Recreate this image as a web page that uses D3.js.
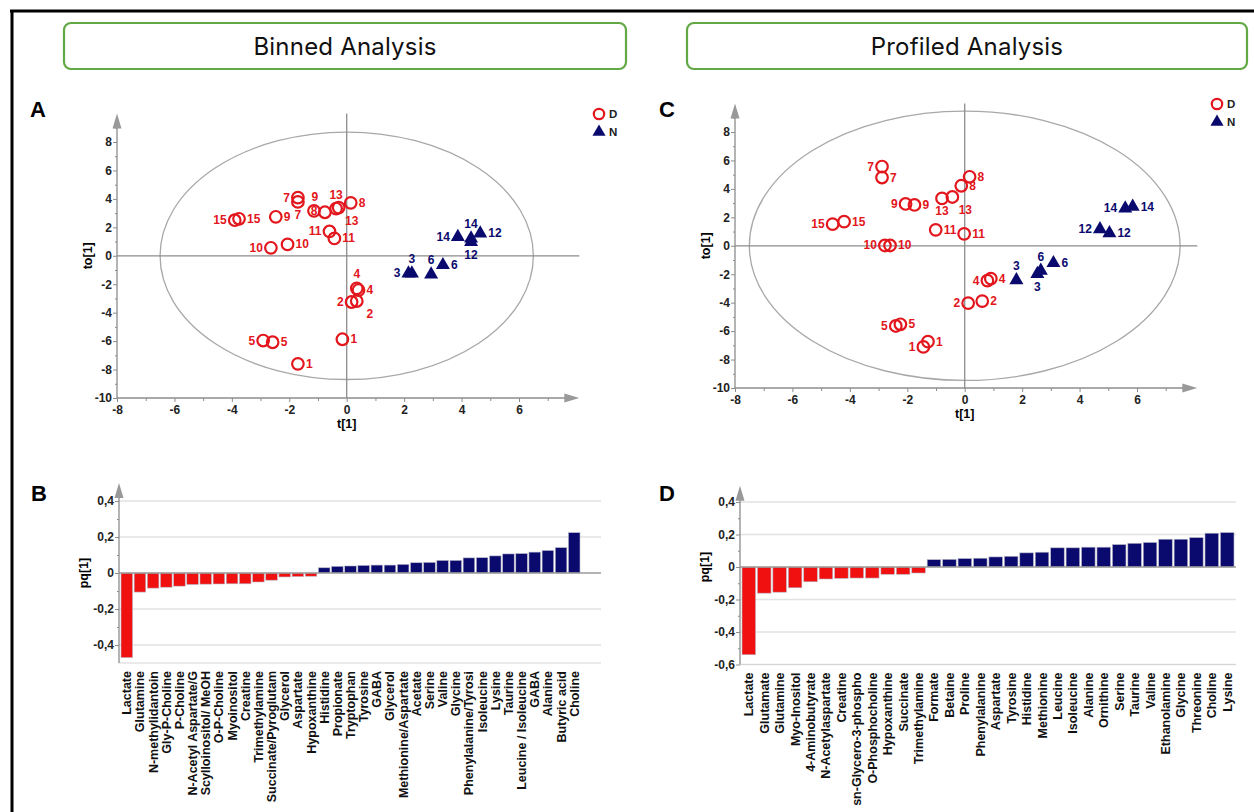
<!DOCTYPE html>
<html>
<head>
<meta charset="utf-8">
<script src="https://cdn.jsdelivr.net/npm/d3@7"></script>
<style>
    body { margin: 0; background: #fff; }
    svg text { font-family: "Liberation Sans", Arial, sans-serif; }
</style>
</head>
<body>
<script>
    // ---------- data ----------
    var scoreTicksX = [-8, -6, -4, -2, 0, 2, 4, 6];
    var scoreTicksY = [-10, -8, -6, -4, -2, 0, 2, 4, 6, 8];

    // Binned analysis scores (t[1], to[1])
    var binnedD = [
        {t: -3.90, to: 2.50, id: "15"}, {t: -3.75, to: 2.60, id: "15"},
        {t: -2.47, to: 2.74, id: "9"},  {t: -1.70, to: 4.09, id: "7"},
        {t: -1.70, to: 3.79, id: "7"},  {t: -1.14, to: 3.16, id: "8"},
        {t: -0.76, to: 3.06, id: "9"},  {t: -0.37, to: 3.32, id: "13"},
        {t: -0.28, to: 3.39, id: "13"}, {t: 0.14, to: 3.72, id: "8"},
        {t: -0.60, to: 1.71, id: "11"}, {t: -0.43, to: 1.22, id: "11"},
        {t: -2.64, to: 0.56, id: "10"}, {t: -2.06, to: 0.80, id: "10"},
        {t: 0.35, to: -2.29, id: "4"},  {t: 0.41, to: -2.41, id: "4"},
        {t: 0.17, to: -3.25, id: "2"},  {t: 0.35, to: -3.18, id: "2"},
        {t: -2.91, to: -5.96, id: "5"}, {t: -2.58, to: -6.08, id: "5"},
        {t: -0.15, to: -5.87, id: "1"}, {t: -1.70, to: -7.60, id: "1"}
    ];
    var binnedDSide = ["l","r","r","l","b","c","tl","t","br","r","l","r","l","r","t","r","l","br","l","r","r","r"];
    var binnedN = [
        {t: 2.15, to: -1.24, id: "3"},  {t: 2.27, to: -1.24, id: "3"},
        {t: 2.94, to: -1.31, id: "6"},  {t: 3.35, to: -0.65, id: "6"},
        {t: 3.87, to: 1.33, id: "14"},  {t: 4.33, to: 1.22, id: "14"},
        {t: 4.33, to: 0.98, id: "12"},  {t: 4.65, to: 1.57, id: "12"}
    ];
    var binnedNSide = ["l","t","t","r","l","t","b","r"];

    // Profiled analysis scores
    var profiledD = [
        {t: -2.88, to: 5.57, id: "7"},  {t: -2.88, to: 4.80, id: "7"},
        {t: 0.17, to: 4.85, id: "8"},   {t: -0.12, to: 4.22, id: "8"},
        {t: -2.06, to: 2.94, id: "9"},  {t: -1.75, to: 2.87, id: "9"},
        {t: -0.79, to: 3.33, id: "13"}, {t: -0.43, to: 3.43, id: "13"},
        {t: -4.60, to: 1.52, id: "15"}, {t: -4.20, to: 1.70, id: "15"},
        {t: -1.01, to: 1.12, id: "11"}, {t: -0.02, to: 0.84, id: "11"},
        {t: -2.78, to: 0.02, id: "10"}, {t: -2.60, to: 0.02, id: "10"},
        {t: 0.79, to: -2.45, id: "4"},  {t: 0.91, to: -2.31, id: "4"},
        {t: 0.12, to: -4.03, id: "2"},  {t: 0.61, to: -3.89, id: "2"},
        {t: -2.40, to: -5.64, id: "5"}, {t: -2.24, to: -5.52, id: "5"},
        {t: -1.44, to: -7.11, id: "1"}, {t: -1.28, to: -6.74, id: "1"}
    ];
    var profiledDSide = ["l","r","r","r","l","r","b","br","l","r","r","r","l","r","l","r","l","r","l","r","l","r"];
    var profiledN = [
        {t: 5.59, to: 2.63, id: "14"},  {t: 5.85, to: 2.75, id: "14"},
        {t: 4.71, to: 1.17, id: "12"},  {t: 5.04, to: 0.89, id: "12"},
        {t: 1.80, to: -2.42, id: "3"},  {t: 2.53, to: -1.98, id: "3"},
        {t: 2.65, to: -1.75, id: "6"},  {t: 3.09, to: -1.21, id: "6"}
    ];
    var profiledNSide = ["l","r","l","r","t","b","t","r"];

    // Loadings pq[1]
    var binnedNames = ["Lactate","Glutamine","N-methylidantoin","Gly-P-Choline","P-Choline",
        "N-Acetyl Aspartate/G","Scylloinositol/ MeOH","O-P-Choline","Myoinositol","Creatine",
        "Trimethylamine","Succinate/Pyroglutam","Glycerol","Aspartate","Hypoxanthine",
        "Histidine","Propionate","Tryptophan","Tyrosine","GABA","Glycerol",
        "Methionine/Aspartate","Acetate","Serine","Valine","Glycine","Phenylalanine/Tyrosi",
        "Isoleucine","Lysine","Taurine","Leucine / Isoleucine","GABA","Alanine","Butyric acid","Choline"];
    var binnedPq = [-0.470,-0.106,-0.084,-0.079,-0.073,-0.064,-0.062,-0.061,-0.060,-0.060,
        -0.050,-0.040,-0.022,-0.020,-0.018,
        0.029,0.037,0.039,0.042,0.044,0.044,0.048,0.057,0.059,0.070,0.070,0.084,
        0.085,0.095,0.106,0.108,0.116,0.125,0.141,0.224];
    var binnedPqTicks = [-0.4, -0.2, 0, 0.2, 0.4];

    var profiledNames = ["Lactate","Glutamate","Glutamine","Myo-Inositol","4-Aminobutyrate",
        "N-Acetylaspartate","Creatine","sn-Glycero-3-phospho","O-Phosphocholine","Hypoxanthine",
        "Succinate","Trimethylamine","Formate","Betaine","Proline","Phenylalanine","Aspartate",
        "Tyrosine","Histidine","Methionine","Leucine","Isoleucine","Alanine","Ornithine","Serine",
        "Taurine","Valine","Ethanolamine","Glycine","Threonine","Choline","Lysine"];
    var profiledPq = [-0.540,-0.161,-0.155,-0.128,-0.091,-0.074,-0.070,-0.068,-0.068,-0.045,
        -0.045,-0.037,
        0.045,0.047,0.052,0.054,0.062,0.066,0.087,0.091,0.118,0.118,0.122,0.122,0.138,
        0.146,0.151,0.171,0.171,0.181,0.208,0.212];
    var profiledPqTicks = [-0.6, -0.4, -0.2, 0, 0.2, 0.4];

    var headers = ["Binned Analysis", "Profiled Analysis"];
    var groups = ["D", "N"];

    // ---------- style ----------
    var RED = "#e2161c", BAR_RED = "#f01010", NAVY = "#0a0a6e", AXIS = "#8c8c8c";

    var W = 1254, H = 812;
    var svg = d3.select("body").append("svg").attr("width", W).attr("height", H);

    // page frame (top and left rule)
    svg.append("line").attr("x1", 10).attr("x2", W).attr("y1", 11).attr("y2", 11)
        .attr("stroke", "#000").attr("stroke-width", 3);
    svg.append("line").attr("x1", 12).attr("x2", 12).attr("y1", 10).attr("y2", H)
        .attr("stroke", "#000").attr("stroke-width", 3);

    // header boxes
    [[64, 626], [687, 1247]].forEach(function(b, i) {
        svg.append("rect").attr("x", b[0]).attr("y", 23).attr("width", b[1] - b[0]).attr("height", 46)
            .attr("rx", 7).attr("fill", "none").attr("stroke", "#62a844").attr("stroke-width", 2.2);
        svg.append("text").attr("x", (b[0] + b[1]) / 2).attr("y", 55)
            .attr("text-anchor", "middle").style("font-family", "Inter, Roboto, sans-serif")
            .style("font-size", "24px").style("letter-spacing", "0.2px").attr("fill", "#111").text(headers[i]);
    });

    // panel letters
    [["A", 30, 117], ["B", 31, 501], ["C", 659, 117], ["D", 659, 501]].forEach(function(p) {
        svg.append("text").attr("x", p[1]).attr("y", p[2]).style("font-size", "22px")
            .style("font-weight", "bold").text(p[0]);
    });

    function arrowUp(g, x, y) {
        g.append("path").attr("d", "M" + x + "," + y + "L" + (x - 4.5) + "," + (y + 15) + "L" + (x + 4.5) + "," + (y + 15) + "Z")
            .attr("fill", "#999");
    }
    function arrowRight(g, x, y) {
        g.append("path").attr("d", "M" + x + "," + y + "L" + (x - 15) + "," + (y - 4.5) + "L" + (x - 15) + "," + (y + 4.5) + "Z")
            .attr("fill", "#999");
    }

    var fmtInt = function(d) { return String(d); };

    function labelPos(side, px, py) {
        var o = {l: [-8, 4, "end"], r: [8, 4, "start"], t: [0, -10, "middle"], b: [0, 17, "middle"],
                 tl: [-10, -11, "middle"], br: [13, 17, "middle"], c: [0, 4, "middle"]}[side];
        return {x: px + o[0], y: py + o[1], anchor: o[2]};
    }

    function scorePlot(x0, y0, dPts, dSide, nPts, nSide, rx, ry, legend) {
        var g = svg.append("g");
        var x = d3.scaleLinear().domain([-8, 6]).range([x0, x0 + 402]);
        var y = d3.scaleLinear().domain([-10, 8]).range([y0, y0 - 256]);

        // ellipse (Hotelling T2)
        g.append("ellipse").attr("cx", x(0)).attr("cy", y(0))
            .attr("rx", x(rx) - x(0)).attr("ry", y(0) - y(ry))
            .attr("fill", "none").attr("stroke", "#a8a8a8").attr("stroke-width", 1.3);

        // zero lines
        g.append("line").attr("x1", x(-8)).attr("x2", x(8.1)).attr("y1", y(0)).attr("y2", y(0))
            .attr("stroke", AXIS).attr("stroke-width", 1.3);
        g.append("line").attr("x1", x(0)).attr("x2", x(0)).attr("y1", y(-10)).attr("y2", y(10))
            .attr("stroke", AXIS).attr("stroke-width", 1.3);

        // axes
        var yAx = g.append("g").attr("transform", "translate(" + x0 + ",0)")
            .call(d3.axisLeft(y).tickValues(scoreTicksY).tickSize(4).tickFormat(fmtInt));
        var yMin = g.append("g").attr("transform", "translate(" + x0 + ",0)")
            .call(d3.axisLeft(y).tickValues(d3.range(-9, 10, 2)).tickSize(2).tickFormat(""));
        var xAx = g.append("g").attr("transform", "translate(0," + y0 + ")")
            .call(d3.axisBottom(x).tickValues(scoreTicksX).tickSize(4).tickFormat(fmtInt));
        var xMin = g.append("g").attr("transform", "translate(0," + y0 + ")")
            .call(d3.axisBottom(x).tickValues(d3.range(-7, 8, 1).filter(function(v) { return v % 2 !== 0; })).tickSize(3).tickFormat(""));
        [yAx, yMin, xAx, xMin].forEach(function(a) {
            a.select(".domain").remove();
            a.selectAll("line").attr("stroke", AXIS);
            a.selectAll("text").style("font-size", "12px").style("font-weight", "bold").attr("fill", "#222");
        });
        yAx.selectAll("text").attr("x", -5);
        g.append("line").attr("x1", x0).attr("x2", x0).attr("y1", y0).attr("y2", y(10) + 4)
            .attr("stroke", AXIS).attr("stroke-width", 1.3);
        g.append("line").attr("x1", x0).attr("x2", x(8.1) - 4).attr("y1", y0).attr("y2", y0)
            .attr("stroke", AXIS).attr("stroke-width", 1.3);
        arrowUp(g, x0, y(10));
        arrowRight(g, x(8.1), y0);

        g.append("text").attr("x", x(0)).attr("y", y0 + 30).attr("text-anchor", "middle")
            .style("font-size", "12.5px").style("font-weight", "bold").text("t[1]");
        g.append("text").attr("transform", "translate(" + (x0 - 25) + "," + y(0) + ") rotate(-90)")
            .attr("text-anchor", "middle").style("font-size", "12.5px").style("font-weight", "bold").text("to[1]");

        // D points (open circles)
        g.selectAll("circle.d").data(dPts).enter().append("circle")
            .attr("cx", function(d) { return x(d.t); })
            .attr("cy", function(d) { return y(d.to); })
            .attr("r", 5.8).attr("fill", "none").attr("stroke", RED).attr("stroke-width", 2.2);
        g.selectAll("text.dl").data(dPts).enter().append("text")
            .each(function(d, i) {
                var p = labelPos(dSide[i], x(d.t), y(d.to));
                d3.select(this).attr("x", p.x).attr("y", p.y).attr("text-anchor", p.anchor);
            })
            .style("font-size", "12px").style("font-weight", "bold").attr("fill", RED)
            .text(function(d) { return d.id; });

        // N points (filled triangles)
        var tri = d3.symbol().type(d3.symbolTriangle).size(85);
        g.selectAll("path.n").data(nPts).enter().append("path")
            .attr("d", tri)
            .attr("transform", function(d) { return "translate(" + x(d.t) + "," + y(d.to) + ")"; })
            .attr("fill", NAVY);
        g.selectAll("text.nl").data(nPts).enter().append("text")
            .each(function(d, i) {
                var p = labelPos(nSide[i], x(d.t), y(d.to));
                d3.select(this).attr("x", p.x).attr("y", p.y).attr("text-anchor", p.anchor);
            })
            .style("font-size", "12px").style("font-weight", "bold").attr("fill", NAVY)
            .text(function(d) { return d.id; });

        // legend
        var lg = g.append("g").attr("transform", "translate(" + legend[0] + "," + legend[1] + ")");
        lg.append("circle").attr("cx", 0).attr("cy", 0).attr("r", 5.2).attr("fill", "none")
            .attr("stroke", RED).attr("stroke-width", 2.2);
        lg.append("path").attr("d", d3.symbol().type(d3.symbolTriangle).size(75))
            .attr("transform", "translate(0,18)").attr("fill", NAVY);
        groups.forEach(function(s, i) {
            lg.append("text").attr("x", 10).attr("y", i * 18 + 4).style("font-size", "11.5px")
                .style("font-weight", "bold").attr("fill", "#222").text(s);
        });
    }

    scorePlot(117, 398, binnedD, binnedDSide, binnedN, binnedNSide, 6.5, 8.7, [599, 114]);
    scorePlot(735, 388, profiledD, profiledDSide, profiledN, profiledNSide, 7.5, 9.47, [1217, 104]);

    var fmtPq = function(d) { return d === 0 ? "0" : d.toFixed(1).replace(".", ","); };

    function loadingPlot(names, vals, ticks, x0, x1, gridEnd, yTop, yBottom, domMin) {
        var g = svg.append("g");
        var y = d3.scaleLinear().domain([domMin, 0.4]).range([yBottom, yTop]);
        var x = d3.scaleBand().domain(d3.range(names.length)).range([x0 + 2, x1]).paddingInner(0.12).paddingOuter(0);

        // grid
        g.selectAll("line.grid").data(ticks.filter(function(v) { return v !== 0; })).enter().append("line")
            .attr("x1", x0).attr("x2", gridEnd)
            .attr("y1", function(d) { return y(d); }).attr("y2", function(d) { return y(d); })
            .attr("stroke", "#e2e2e2").attr("stroke-width", 1.3);
        g.append("line").attr("x1", x0).attr("x2", gridEnd).attr("y1", y(domMin)).attr("y2", y(domMin))
            .attr("stroke", "#d6d6d6").attr("stroke-width", 1.2);

        // bars
        g.selectAll("rect").data(vals).enter().append("rect")
            .attr("x", function(d, i) { return x(i); })
            .attr("width", x.bandwidth())
            .attr("y", function(d) { return d > 0 ? y(d) : y(0); })
            .attr("height", function(d) { return Math.abs(y(d) - y(0)); })
            .attr("fill", function(d) { return d < 0 ? BAR_RED : NAVY; })
            .attr("stroke", "#b8b8c8").attr("stroke-width", 0.6);

        g.append("line").attr("x1", x0).attr("x2", gridEnd).attr("y1", y(0)).attr("y2", y(0))
            .attr("stroke", "#9a9a9a").attr("stroke-width", 1.3);

        // y axis
        var ax = g.append("g").attr("transform", "translate(" + x0 + ",0)")
            .call(d3.axisLeft(y).tickValues(ticks).tickSize(4).tickFormat(fmtPq));
        var axm = g.append("g").attr("transform", "translate(" + x0 + ",0)")
            .call(d3.axisLeft(y).tickValues(ticks.map(function(v) { return v + 0.1; }).filter(function(v) { return v < 0.45; })).tickSize(2).tickFormat(""));
        [ax, axm].forEach(function(a) {
            a.select(".domain").remove();
            a.selectAll("line").attr("stroke", AXIS);
            a.selectAll("text").style("font-size", "12px").style("font-weight", "bold").attr("fill", "#222");
        });
        ax.selectAll("text").attr("x", -5);
        g.append("line").attr("x1", x0).attr("x2", x0).attr("y1", y(domMin)).attr("y2", y(0.5) + 4)
            .attr("stroke", AXIS).attr("stroke-width", 1.3);
        arrowUp(g, x0, y(0.5));
        g.append("text").attr("transform", "translate(" + (x0 - 31) + "," + y(0) + ") rotate(-90)")
            .attr("text-anchor", "middle").style("font-size", "12.5px").style("font-weight", "bold").text("pq[1]");

        // category labels
        g.selectAll("text.cat").data(names).enter().append("text")
            .attr("transform", function(d, i) {
                return "translate(" + (x(i) + x.bandwidth() / 2 + 4.5) + "," + (y(domMin) + 8) + ") rotate(-90)";
            })
            .attr("text-anchor", "end").style("font-size", "12.5px").style("font-weight", "bold")
            .attr("fill", "#111").text(function(d) { return d; });
    }

    loadingPlot(binnedNames, binnedPq, binnedPqTicks, 119, 580, 601, 501, 663, -0.5);
    loadingPlot(profiledNames, profiledPq, profiledPqTicks, 740, 1234, 1236, 502, 664.5, -0.6);
</script>
</body>
</html>
